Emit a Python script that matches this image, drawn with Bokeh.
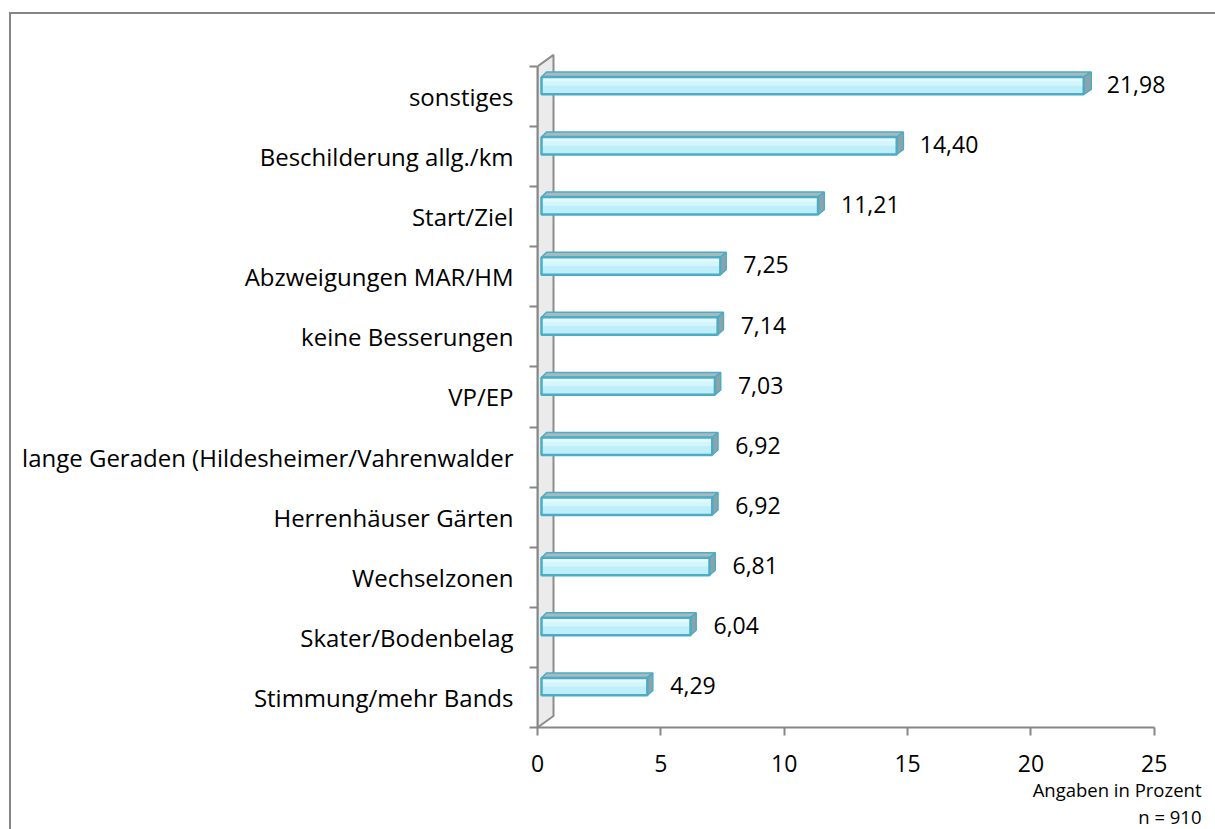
from bokeh.plotting import figure
from bokeh.models import FixedTicker, Range1d, Title, ColumnDataSource
from bokeh.embed import file_html
from bokeh.resources import INLINE
from bokeh.core.properties import value

# ---------------- data ----------------
categories = [
    "sonstiges",
    "Beschilderung allg./km",
    "Start/Ziel",
    "Abzweigungen MAR/HM",
    "keine Besserungen",
    "VP/EP",
    "lange Geraden (Hildesheimer/Vahrenwalder",
    "Herrenhäuser Gärten",
    "Wechselzonen",
    "Skater/Bodenbelag",
    "Stimmung/mehr Bands",
]
values = [21.98, 14.40, 11.21, 7.25, 7.14, 7.03, 6.92, 6.92, 6.81, 6.04, 4.29]
x_ticks = [0, 5, 10, 15, 20, 25]
note_unit = "Angaben in Prozent"
note_n = "n = 910"

# ---------------- geometry / style ----------------
FONT = "Open Sans"
FS = "23px"
FS_CAT = "24px"
PX_X = 24.67          # pixels per percent
PX_Y = 60.1           # pixels per category
LEFT = 537
TOP = 51
RIGHT = 14
FRAME_W = 1215 - LEFT - RIGHT
FRAME_H = 676
AXIS_COL = "#868686"

n = len(categories)
ys = [n - 1 - i for i in range(n)]
value_labels = [f"{v:.2f}".replace(".", ",") for v in values]

y_start = -0.5
p = figure(
    x_range=Range1d(0, FRAME_W / PX_X),
    y_range=Range1d(y_start, y_start + FRAME_H / PX_Y),
    frame_width=FRAME_W, frame_height=FRAME_H,
    min_border_left=LEFT, min_border_right=RIGHT, min_border_top=TOP,
    min_border_bottom=829 - TOP - FRAME_H,
    output_backend="svg", toolbar_location=None,
)
p.grid.visible = False
p.outline_line_color = None
p.background_fill_color = "white"
p.border_fill_color = "white"
p.stylesheets = [
    ":host { overflow: hidden; }"
    ":host::after { content: ''; position: absolute; left: 9px; top: 12px;"
    " width: 1400px; height: 1000px; border: 2px solid #868686;"
    " pointer-events: none; box-sizing: border-box; }"
]

# ---------------- 3D wall ----------------
wdx = 16 / PX_X
wdy = 11.5 / PX_Y
p.patch([0, 0, wdx, wdx], [-0.5, n - 0.5, n - 0.5 + wdy, -0.5 + wdy],
        fill_color="#ebebeb", line_color="#8c8c8c", line_width=2)

# ---------------- bars ----------------
BASE = 4 / PX_X
yb_off, yt_off = 0.035, 0.325
dyd = 5 / PX_Y
x0 = [BASE for v in values]
x1 = [v + BASE for v in values]
yb = [y + yb_off for y in ys]
yt = [y + yt_off for y in ys]
dxl = 5 / PX_X
dxr = [(5 + 2.5 * v / 22) / PX_X for v in values]

top_xs = [[a, b, b + r, a + dxl] for a, b, r in zip(x0, x1, dxr)]
top_ys = [[t, t, t + dyd, t + dyd] for t in yt]
side_xs = [[b, b + r, b + r, b] for b, r in zip(x1, dxr)]
side_ys = [[bb, bb + dyd, t + dyd, t] for bb, t in zip(yb, yt)]

p.patches(top_xs, top_ys, fill_color="#a9babe", line_color="#4bacc6", line_width=1.5)
p.patches(side_xs, side_ys, fill_color="#8fa2a7", line_color="#4bacc6", line_width=1.5)

src = ColumnDataSource(dict(x0=x0, x1=x1, yb=yb, yt=yt,
                            ym=[(a + b) / 2 for a, b in zip(yb, yt)],
                            yq=[a + (b - a) * 0.75 for a, b in zip(yb, yt)],
                            lab=value_labels))
p.quad(left="x0", right="x1", bottom="yb", top="yt", source=src,
       fill_color="#bdeef9", line_color=None)
p.quad(left="x0", right="x1", bottom="ym", top="yt", source=src,
       fill_color="#d3f5fc", line_color=None)
p.quad(left="x0", right="x1", bottom="yq", top="yt", source=src,
       fill_color="#e4f9fe", line_color=None)
p.quad(left="x0", right="x1", bottom="yb", top="yt", source=src,
       fill_color=None, line_color="#4bacc6", line_width=2.5)

p.text(x="x1", y="ym", text="lab", source=src, x_offset=23, y_offset=-1,
       text_align="left", text_baseline="middle",
       text_font=value(FONT), text_font_size=FS, text_color="black")

# ---------------- axes ----------------
xa = p.xaxis[0]
xa.ticker = FixedTicker(ticks=x_ticks)
xa.bounds = (0, 25)
xa.axis_line_color = AXIS_COL
xa.axis_line_width = 2
xa.major_tick_line_color = AXIS_COL
xa.major_tick_line_width = 2
xa.major_tick_out = 8
xa.major_tick_in = 0
xa.minor_tick_line_color = None
xa.major_label_standoff = 19
xa.major_label_text_font = FONT
xa.major_label_text_font_size = FS
xa.major_label_text_color = "black"

ya = p.yaxis[0]
ya.ticker = FixedTicker(ticks=ys, minor_ticks=[i - 0.5 for i in range(n + 1)])
ya.major_label_overrides = {y: c for y, c in zip(ys, categories)}
ya.bounds = (-0.5, n - 0.5)
ya.axis_line_color = AXIS_COL
ya.axis_line_width = 2
ya.major_tick_line_color = None
ya.major_tick_out = 0
ya.major_tick_in = 0
ya.minor_tick_line_color = AXIS_COL
ya.minor_tick_line_width = 2
ya.minor_tick_out = 8
ya.minor_tick_in = 0
ya.major_label_standoff = 16
ya.major_label_text_font = FONT
ya.major_label_text_font_size = FS_CAT
ya.major_label_text_color = "black"

# ---------------- notes ----------------
for txt in (note_unit, note_n):
    p.add_layout(Title(text=txt, align="right", text_font=FONT,
                       text_font_size="18.5px", text_font_style="normal",
                       text_color="black", standoff=0), "below")

open("out.html", "w").write(file_html(p, INLINE))
